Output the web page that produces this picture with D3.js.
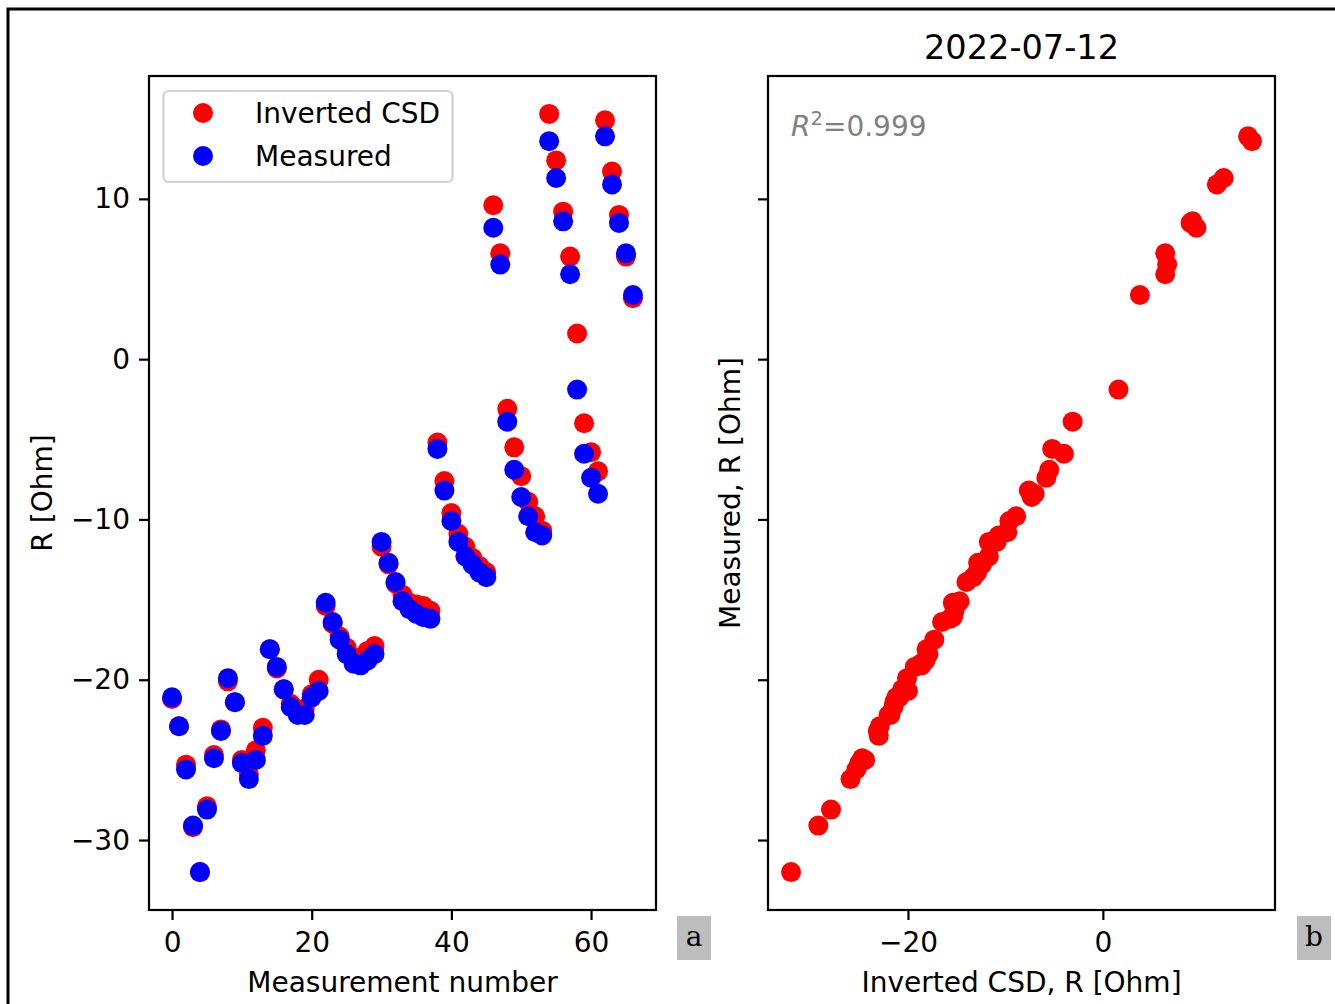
<!DOCTYPE html>
<html>
<head>
<meta charset="utf-8">
<script src="https://cdn.jsdelivr.net/npm/d3@7"></script>
<style>
  html, body { margin: 0; padding: 0; background: #fff; }
  svg { display: block; }
  text { font-family: "DejaVu Sans", sans-serif; }
</style>
</head>
<body>
<svg id="chart" width="1335" height="1004"></svg>
<script>
// ---- data ----
const measurementIndex = d3.range(0, 67);
const invertedCSD = [
  -21.2, -22.9, -25.3, -29.2, -32.0, -27.9, -24.7, -23.1, -20.1, -21.4,
  -25.0, -25.9, -24.4, -23.0, -18.1, -19.3, -20.6, -21.5, -22.0, -21.8,
  -20.9, -20.0, -15.4, -16.5, -17.3, -18.0, -18.7, -18.6, -18.2, -17.9,
  -11.7, -12.8, -14.0, -14.7, -15.2, -15.3, -15.4, -15.7, -5.2, -7.6,
  -9.6, -10.9, -11.7, -12.4, -12.9, -13.3, 9.6, 6.6, -3.1, -5.5,
  -7.3, -8.9, -9.8, -10.7, 15.3, 12.4, 9.2, 6.4, 1.6, -4.0,
  -5.8, -7.0, 14.9, 11.7, 9.0, 6.4, 3.8
];
const measured = [
  -21.1, -22.9, -25.6, -29.1, -32.0, -28.1, -24.9, -23.2, -19.9, -21.4,
  -25.2, -26.2, -25.0, -23.5, -18.1, -19.2, -20.6, -21.7, -22.2, -22.2,
  -21.1, -20.7, -15.2, -16.4, -17.5, -18.4, -19.0, -19.1, -18.8, -18.4,
  -11.4, -12.7, -13.9, -15.1, -15.6, -15.9, -16.1, -16.2, -5.6, -8.2,
  -10.1, -11.4, -12.3, -12.8, -13.3, -13.6, 8.2, 5.9, -3.9, -6.9,
  -8.6, -9.8, -10.8, -11.0, 13.6, 11.3, 8.6, 5.3, -1.9, -5.9,
  -7.4, -8.4, 13.9, 10.9, 8.5, 6.6, 4.0
];
const leftXTicks = [0, 20, 40, 60];
const yTicks = [-30, -20, -10, 0, 10];
const rightXTicks = [-20, 0];
const seriesNames = ["Inverted CSD", "Measured"];
const seriesColors = ["#ff0000", "#0000ff"];
const titleText = "2022-07-12";
const r2Text = "0.999";

// ---- layout ----
const svg = d3.select("#chart");
const FS = 28;
const L = { x0: 149, x1: 656, y0: 76, y1: 910 };
const R = { x0: 768, x1: 1275, y0: 76, y1: 910 };

function padDomain(vals) {
  const mn = d3.min(vals), mx = d3.max(vals), m = (mx - mn) * 0.05;
  return [mn - m, mx + m];
}
const allY = invertedCSD.concat(measured);
const xL = d3.scaleLinear().domain(padDomain(measurementIndex)).range([L.x0, L.x1]);
const yS = d3.scaleLinear().domain(padDomain(allY)).range([L.y1, L.y0]);
const xR = d3.scaleLinear().domain(padDomain(invertedCSD)).range([R.x0, R.x1]);
const yR = d3.scaleLinear().domain(padDomain(allY)).range([R.y1, R.y0]);

// outer frame
svg.append("rect").attr("x", 8).attr("y", 9).attr("width", 1340).attr("height", 1010)
  .attr("fill", "none").attr("stroke", "#000").attr("stroke-width", 3);

function styleAxis(g) {
  g.select(".domain").remove();
  g.selectAll(".tick line").attr("stroke", "#000").attr("stroke-width", 2.2);
  g.selectAll(".tick text").attr("font-size", FS).attr("font-family", "DejaVu Sans").attr("fill", "#000");
}

// ---- left panel ----
const gL = svg.append("g");
gL.append("g").attr("transform", `translate(0,${L.y1})`)
  .call(d3.axisBottom(xL).tickValues(leftXTicks).tickSize(10).tickPadding(12).tickFormat(d3.format("d")))
  .call(styleAxis);
gL.append("g").attr("transform", `translate(${L.x0},0)`)
  .call(d3.axisLeft(yS).tickValues(yTicks).tickSize(10).tickPadding(9).tickFormat(d3.format("d")))
  .call(styleAxis);
gL.selectAll("circle.inv").data(measurementIndex).join("circle").attr("class", "inv")
  .attr("cx", i => xL(i)).attr("cy", i => yS(invertedCSD[i])).attr("r", 10).attr("fill", seriesColors[0]);
gL.selectAll("circle.meas").data(measurementIndex).join("circle").attr("class", "meas")
  .attr("cx", i => xL(i)).attr("cy", i => yS(measured[i])).attr("r", 10).attr("fill", seriesColors[1]);
gL.append("rect").attr("x", L.x0).attr("y", L.y0).attr("width", L.x1 - L.x0).attr("height", L.y1 - L.y0)
  .attr("fill", "none").attr("stroke", "#000").attr("stroke-width", 2.2);

// legend
const lg = gL.append("g");
lg.append("rect").attr("x", 163.5).attr("y", 91).attr("width", 289).attr("height", 91).attr("rx", 5)
  .attr("fill", "#fff").attr("fill-opacity", 0.8).attr("stroke", "#d0d0d0").attr("stroke-width", 2.2);
seriesNames.forEach((n, k) => {
  const yy = 113 + k * 43;
  lg.append("circle").attr("cx", 203).attr("cy", yy).attr("r", 10).attr("fill", seriesColors[k]);
  lg.append("text").attr("x", 255).attr("y", yy).attr("dy", "0.36em").attr("font-size", FS).text(n);
});

// axis labels
svg.append("text").attr("x", (L.x0 + L.x1) / 2).attr("y", 992).attr("text-anchor", "middle")
  .attr("font-size", FS).text("Measurement number");
svg.append("text").attr("transform", `translate(52,${(L.y0 + L.y1) / 2}) rotate(-90)`)
  .attr("text-anchor", "middle").attr("font-size", FS).text("R [Ohm]");

// ---- right panel ----
const gR = svg.append("g");
gR.append("g").attr("transform", `translate(0,${R.y1})`)
  .call(d3.axisBottom(xR).tickValues(rightXTicks).tickSize(10).tickPadding(12).tickFormat(d3.format("d")))
  .call(styleAxis);
gR.append("g").attr("transform", `translate(${R.x0},0)`)
  .call(d3.axisLeft(yR).tickValues(yTicks).tickSize(10).tickFormat(""))
  .call(styleAxis);
gR.selectAll("circle.pt").data(measurementIndex).join("circle").attr("class", "pt")
  .attr("cx", i => xR(invertedCSD[i])).attr("cy", i => yR(measured[i])).attr("r", 10).attr("fill", seriesColors[0]);
gR.append("rect").attr("x", R.x0).attr("y", R.y0).attr("width", R.x1 - R.x0).attr("height", R.y1 - R.y0)
  .attr("fill", "none").attr("stroke", "#000").attr("stroke-width", 2.2);

// R^2 annotation
const r2 = gR.append("text").attr("x", 791).attr("y", 136).attr("font-size", FS).attr("fill", "#808080");
r2.append("tspan").attr("font-style", "italic").text("R");
r2.append("tspan").attr("font-size", FS * 0.7).attr("dy", -11).text("2");
r2.append("tspan").attr("dy", 11).text("=" + r2Text);

// title
svg.append("text").attr("x", (R.x0 + R.x1) / 2).attr("y", 59).attr("text-anchor", "middle")
  .attr("font-size", 33.6).text(titleText);

svg.append("text").attr("x", (R.x0 + R.x1) / 2).attr("y", 992).attr("text-anchor", "middle")
  .attr("font-size", FS).text("Inverted CSD, R [Ohm]");
svg.append("text").attr("transform", `translate(740,${(R.y0 + R.y1) / 2}) rotate(-90)`)
  .attr("text-anchor", "middle").attr("font-size", FS).text("Measured, R [Ohm]");

// panel tags
[["a", 677], ["b", 1297]].forEach(([t, x]) => {
  svg.append("rect").attr("x", x).attr("y", 916).attr("width", 34).attr("height", 44).attr("fill", "#bdbdbd");
  svg.append("text").attr("x", x + 17).attr("y", 946).attr("text-anchor", "middle")
    .attr("font-family", "DejaVu Serif").style("font-family", "'DejaVu Serif', serif")
    .attr("font-size", FS).text(t);
});
</script>
</body>
</html>
